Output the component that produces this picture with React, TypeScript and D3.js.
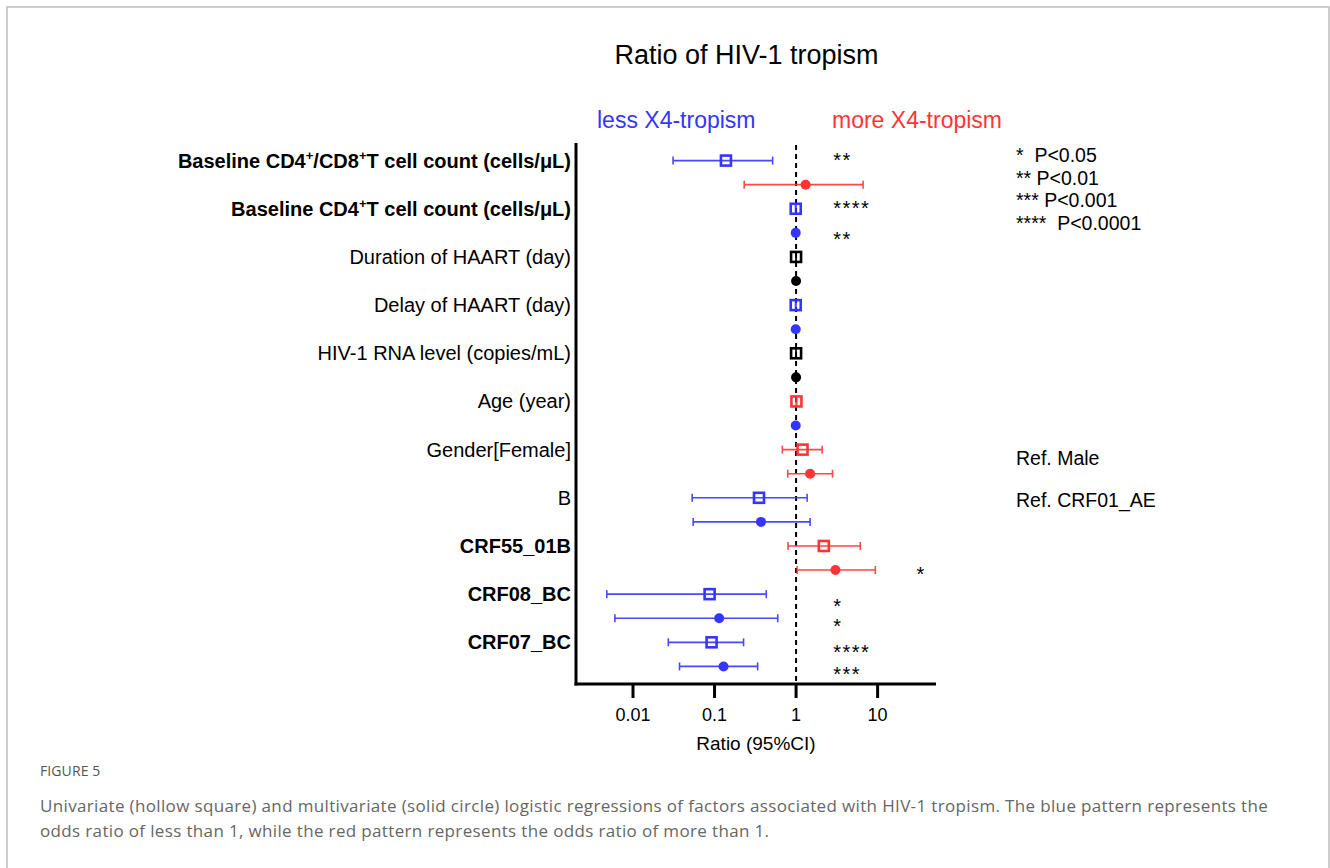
import React from "react";
import * as d3 from "d3";

// ---------- data ----------
const categories = [
  "Baseline CD4+/CD8+T cell count (cells/μL)",
  "Baseline CD4+T cell count (cells/μL)",
  "Duration of HAART (day)",
  "Delay of HAART (day)",
  "HIV-1 RNA level (copies/mL)",
  "Age (year)",
  "Gender[Female]",
  "B",
  "CRF55_01B",
  "CRF08_BC",
  "CRF07_BC",
];
const boldCategory = [true, true, false, false, false, false, false, false, true, true, true];

// univariate (hollow square)
const uniOR = [0.138, 0.99, 1.0, 0.99, 1.0, 1.01, 1.2, 0.351, 2.19, 0.087, 0.092];
const uniLo = [0.031, 0.985, 1.0, 0.985, 1.0, 1.0, 0.679, 0.0532, 0.797, 0.00477, 0.0271];
const uniHi = [0.516, 0.995, 1.0, 0.995, 1.0, 1.02, 2.09, 1.366, 6.13, 0.431, 0.227];
const uniStars = ["**", "****", "", "", "", "", "", "", "", "*", "****"];

// multivariate (solid circle)
const multOR = [1.31, 0.99, 1.0, 0.99, 1.0, 0.99, 1.486, 0.371, 3.04, 0.114, 0.129];
const multLo = [0.231, 0.985, 1.0, 0.985, 1.0, 0.985, 0.79, 0.0547, 1.03, 0.006, 0.0372];
const multHi = [6.64, 0.995, 1.0, 0.995, 1.0, 0.995, 2.8, 1.486, 9.37, 0.596, 0.338];
const multStars = ["", "**", "", "", "", "", "", "", "*", "*", "***"];

const xTicks = [0.01, 0.1, 1, 10];
const legendLines = ["*  P<0.05", "** P<0.01", "*** P<0.001", "****  P<0.0001"];
const refNotes: [number, string][] = [
  [6, "Ref. Male"],
  [7, "Ref. CRF01_AE"],
];

// ---------- styling ----------
const BLUE = "#3535ff";
const RED = "#ff3535";
const BLACK = "#000";
const FONT = "'Liberation Sans', Arial, sans-serif";
const CAP_FONT = "'Open Sans', sans-serif";

const colorFor = (v: number) => (v < 1 ? BLUE : v > 1 ? RED : BLACK);

function Label({ text, x, y, bold }: { text: string; x: number; y: number; bold: boolean }) {
  const parts = text.split("+");
  const fs = 20;
  return (
    <text x={x} y={y} textAnchor="end" fontFamily={FONT} fontSize={fs} fontWeight={bold ? "bold" : "normal"} fill="#000">
      {parts.map((p, i) => (
        <React.Fragment key={i}>
          <tspan dy={i === 0 ? 0 : 8}>{p}</tspan>
          {i < parts.length - 1 && (
            <tspan dy={-8} fontSize={13}>
              +
            </tspan>
          )}
        </React.Fragment>
      ))}
    </text>
  );
}

export default function App() {
  const W = 1330;
  const H = 868;
  const axisLeft = 576;
  const axisRight = 936;
  const axisTop = 143;
  const axisBottom = 684;

  const x = d3.scaleLog().domain([0.002, 52]).range([axisLeft, axisRight]);

  const rowKeys = d3.range(categories.length * 2).map(String);
  const y = d3.scalePoint<string>().domain(rowKeys).range([axisTop, axisBottom]).padding(0.73);
  const yUni = (i: number) => y(String(2 * i)) as number;
  const yMult = (i: number) => y(String(2 * i + 1)) as number;

  // star positioning (column + nudges)
  const starCol = 2.85;
  const uniStarX = categories.map(() => starCol);
  const multStarX = categories.map((_, i) => (i === 8 ? 30 : starCol));
  const uniStarDy = [-5, -5, 0, 0, 0, 0, 0, 0, 0, 7, 5];
  const multStarDy = [0, 1.5, 0, 0, 0, 0, 0, 0, -1, 3, 3.5];
  const refDy = [8.5, 2];

  const capH = 4;
  const sq = 10;

  const errBar = (or: number, lo: number, hi: number, yy: number, key: string) => {
    const c = colorFor(or);
    return (
      <g key={key} stroke={c} strokeWidth={1.6} opacity={0.9}>
        <line x1={x(lo)} x2={x(hi)} y1={yy} y2={yy} />
        <line x1={x(lo)} x2={x(lo)} y1={yy - capH} y2={yy + capH} />
        <line x1={x(hi)} x2={x(hi)} y1={yy - capH} y2={yy + capH} />
      </g>
    );
  };

  return (
    <svg width={W} height={H} style={{ position: "absolute", left: 0, top: 0, background: "#fff" }}>
      <rect width={W} height={H} fill="#fff" />
      {/* frame */}
      <path d={`M7,${H} V7 H1329 V${H}`} fill="none" stroke="#bdbdbd" strokeWidth={1.5} />

      {/* title */}
      <text x={746.5} y={64} textAnchor="middle" fontFamily={FONT} fontSize={27} fill="#000">
        Ratio of HIV-1 tropism
      </text>
      <text x={597} y={128} fontFamily={FONT} fontSize={23} fill={BLUE}>
        less X4-tropism
      </text>
      <text x={832} y={128} fontFamily={FONT} fontSize={23} fill={RED}>
        more X4-tropism
      </text>

      {/* reference line at 1 */}
      <line x1={x(1)} x2={x(1)} y1={145} y2={axisBottom} stroke="#000" strokeWidth={2} strokeDasharray="5,4" />

      {/* error bars + markers */}
      {categories.map((_, i) => (
        <g key={"row" + i}>
          {errBar(uniOR[i], uniLo[i], uniHi[i], yUni(i), "u" + i)}
          {errBar(multOR[i], multLo[i], multHi[i], yMult(i), "m" + i)}
          <rect
            x={x(uniOR[i]) - sq / 2}
            y={yUni(i) - sq / 2}
            width={sq}
            height={sq}
            fill="none"
            stroke={colorFor(uniOR[i])}
            strokeWidth={2.6}
          />
          <circle cx={x(multOR[i])} cy={yMult(i)} r={5} fill={colorFor(multOR[i])} />
        </g>
      ))}

      {/* significance stars */}
      {categories.map((_, i) => (
        <g key={"s" + i} fontFamily={FONT} fontSize={20} fill="#000" letterSpacing={1.5}>
          {uniStars[i] && (
            <text x={x(uniStarX[i])} y={yUni(i) + uniStarDy[i] + 11.5}>
              {uniStars[i]}
            </text>
          )}
          {multStars[i] && (
            <text x={x(multStarX[i])} y={yMult(i) + multStarDy[i] + 11.5}>
              {multStars[i]}
            </text>
          )}
        </g>
      ))}

      {/* category labels */}
      {categories.map((c, i) => (
        <Label key={"l" + i} text={c} x={571} y={yUni(i) + 7} bold={boldCategory[i]} />
      ))}

      {/* axes */}
      <line x1={axisLeft} x2={axisLeft} y1={axisTop} y2={axisBottom + 1.5} stroke="#000" strokeWidth={3} />
      <line x1={axisLeft - 1.5} x2={axisRight} y1={axisBottom} y2={axisBottom} stroke="#000" strokeWidth={3} />
      {xTicks.map((t) => (
        <g key={"t" + t}>
          <line x1={x(t)} x2={x(t)} y1={axisBottom} y2={axisBottom + 14} stroke="#000" strokeWidth={3} />
          <text x={x(t)} y={721} textAnchor="middle" fontFamily={FONT} fontSize={18} fill="#000">
            {t}
          </text>
        </g>
      ))}
      <text x={756} y={750} textAnchor="middle" fontFamily={FONT} fontSize={19} fill="#000">
        Ratio (95%CI)
      </text>

      {/* legend */}
      {legendLines.map((l, i) => (
        <text key={"lg" + i} x={1016} y={162 + i * 22.7} fontFamily={FONT} fontSize={19.5} fill="#000" style={{ whiteSpace: "pre" }}>
          {l}
        </text>
      ))}
      {refNotes.map(([i, t], k) => (
        <text key={"r" + i} x={1016} y={yUni(i) + refDy[k] + 7} fontFamily={FONT} fontSize={19.5} fill="#000">
          {t}
        </text>
      ))}

      {/* caption */}
      <text x={40} y={776} fontFamily={CAP_FONT} fontSize={14} fill="#555" letterSpacing={0.1}>
        FIGURE 5
      </text>
      <text x={40} y={812} fontFamily={CAP_FONT} fontSize={17} fill="#666" letterSpacing={0.35}>
        Univariate (hollow square) and multivariate (solid circle) logistic regressions of factors associated with HIV-1 tropism. The blue pattern represents the
      </text>
      <text x={40} y={837} fontFamily={CAP_FONT} fontSize={17} fill="#666" letterSpacing={0.35}>
        odds ratio of less than 1, while the red pattern represents the odds ratio of more than 1.
      </text>
    </svg>
  );
}
